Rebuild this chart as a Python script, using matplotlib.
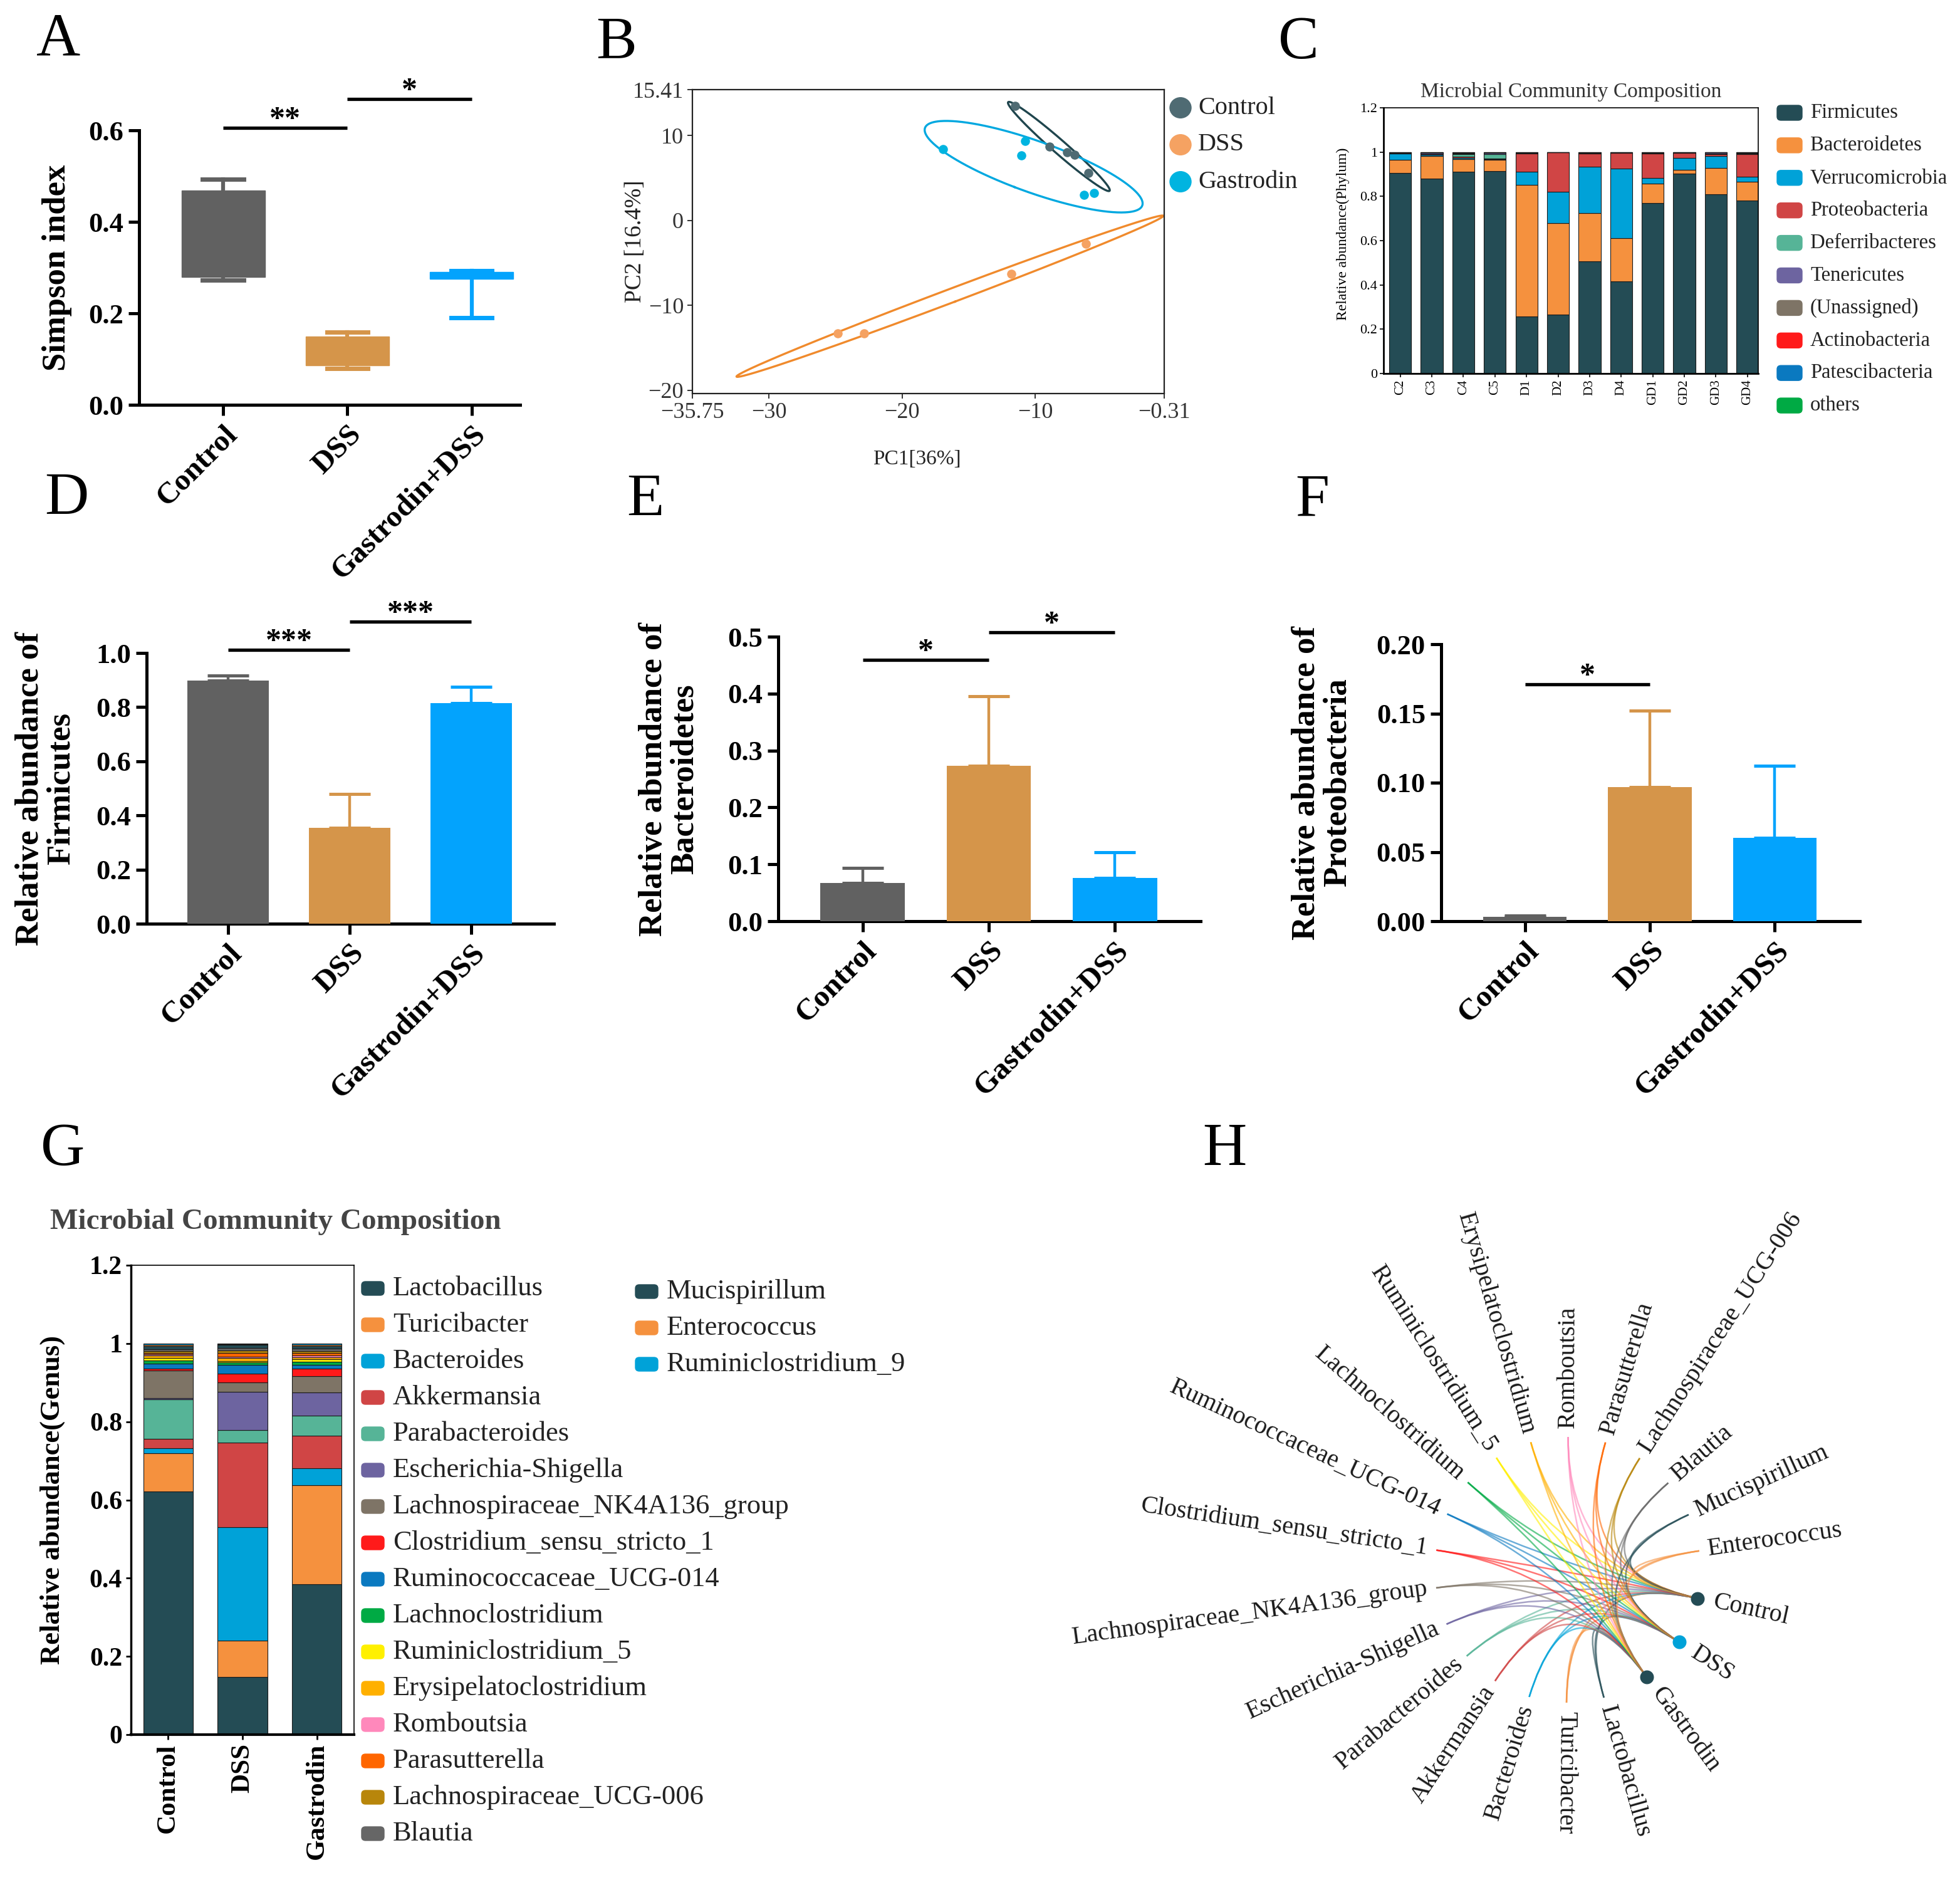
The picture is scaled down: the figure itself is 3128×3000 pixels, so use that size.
import numpy as np
import matplotlib
matplotlib.use("Agg")
import matplotlib.pyplot as plt
from matplotlib.patches import FancyBboxPatch, PathPatch
from matplotlib.path import Path

plt.rcParams['font.family'] = ['Liberation Serif', 'DejaVu Serif']

# ---------------- data ----------------
groups = ['Control', 'DSS', 'Gastrodin+DSS']
group_colors = ['#616161', '#D5954A', '#03A3FD']

# A: Simpson index (box summary)
simpson_q1 = [0.279, 0.086, 0.275]
simpson_med = [0.36, 0.12, 0.283]
simpson_q3 = [0.468, 0.149, 0.291]
simpson_lo = [0.272, 0.080, 0.191]
simpson_hi = [0.493, 0.159, 0.293]

# B: PCA scores
ctrl_pc1 = [-11.53, -8.91, -7.61, -7.05, -6.01]
ctrl_pc2 = [13.50, 8.71, 8.06, 7.71, 5.60]
dss_pc1 = [-24.81, -22.84, -11.81, -6.17]
dss_pc2 = [-13.31, -13.31, -6.25, -2.77]
gas_pc1 = [-16.92, -10.74, -11.05, -6.32, -5.56]
gas_pc2 = [8.37, 9.38, 7.68, 3.02, 3.23]

# C: phylum composition per sample
samples = ['C2', 'C3', 'C4', 'C5', 'D1', 'D2', 'D3', 'D4', 'GD1', 'GD2', 'GD3', 'GD4']
phyla = ['Firmicutes', 'Bacteroidetes', 'Verrucomicrobia', 'Proteobacteria',
         'Deferribacteres', 'Tenericutes', '(Unassigned)', 'Actinobacteria',
         'Patescibacteria', 'others']
firmicutes = [0.905, 0.879, 0.912, 0.915, 0.258, 0.265, 0.507, 0.416, 0.770, 0.903, 0.809, 0.782]
bacteroidetes = [0.059, 0.104, 0.056, 0.049, 0.595, 0.413, 0.217, 0.194, 0.088, 0.016, 0.120, 0.083]
verrucomicrobia = [0.028, 0.006, 0.007, 0.005, 0.058, 0.142, 0.209, 0.316, 0.026, 0.055, 0.052, 0.023]
proteobacteria = [0.001, 0.001, 0.003, 0.002, 0.083, 0.178, 0.059, 0.070, 0.108, 0.022, 0.010, 0.103]
deferribacteres = [0.001, 0.001, 0.012, 0.020, 0.001, 0.000, 0.001, 0.000, 0.002, 0.000, 0.001, 0.001]
tenericutes = [0.003, 0.006, 0.004, 0.004, 0.002, 0.001, 0.003, 0.002, 0.002, 0.002, 0.006, 0.005]
unassigned = [0.002, 0.002, 0.003, 0.003, 0.002, 0.001, 0.003, 0.001, 0.002, 0.002, 0.002, 0.002]
actinobacteria = [0.000, 0.000, 0.001, 0.001, 0.000, 0.000, 0.000, 0.000, 0.000, 0.000, 0.000, 0.000]
patescibacteria = [0.000, 0.000, 0.000, 0.000, 0.000, 0.000, 0.000, 0.000, 0.000, 0.000, 0.000, 0.000]
others_phy = [0.001, 0.001, 0.002, 0.001, 0.001, 0.000, 0.001, 0.001, 0.002, 0.000, 0.000, 0.001]
phylum_colors = ['#244C55', '#F5913E', '#00A2D8', '#D04545', '#56B497',
                 '#6D64A0', '#7E7466', '#FF1A1A', '#0A79C0', '#00AA44']

# D/E/F: mean and SD
firm_mean = [0.897, 0.355, 0.814]
firm_sd = [0.020, 0.125, 0.060]
bact_mean = [0.067, 0.273, 0.076]
bact_sd = [0.027, 0.122, 0.045]
prot_mean = [0.003, 0.097, 0.060]
prot_sd = [0.001, 0.055, 0.052]

# G: genus composition per group
genera = ['Lactobacillus', 'Turicibacter', 'Bacteroides', 'Akkermansia', 'Parabacteroides',
          'Escherichia-Shigella', 'Lachnospiraceae_NK4A136_group', 'Clostridium_sensu_stricto_1',
          'Ruminococcaceae_UCG-014', 'Lachnoclostridium', 'Ruminiclostridium_5',
          'Erysipelatoclostridium', 'Romboutsia', 'Parasutterella', 'Lachnospiraceae_UCG-006',
          'Blautia', 'Mucispirillum', 'Enterococcus', 'Ruminiclostridium_9']
genus_colors = ['#244C55', '#F5913E', '#00A2D8', '#D04545', '#56B497', '#6D64A0', '#7E7466',
                '#FF1A1A', '#0A79C0', '#00AA44', '#FFF000', '#FFB000', '#FF88BB', '#FF6600',
                '#B8860B', '#666666', '#244C55', '#F5913E', '#00A2D8']
genus_control = [0.621, 0.099, 0.012, 0.024, 0.101, 0.004, 0.070, 0.005, 0.012, 0.008,
                 0.007, 0.006, 0.003, 0.003, 0.005, 0.006, 0.008, 0.002, 0.004]
genus_dss = [0.148, 0.093, 0.290, 0.216, 0.031, 0.099, 0.023, 0.023, 0.022, 0.006,
             0.004, 0.008, 0.003, 0.010, 0.006, 0.006, 0.008, 0.002, 0.002]
genus_gastrodin = [0.385, 0.253, 0.043, 0.083, 0.052, 0.059, 0.042, 0.019, 0.010, 0.007,
                   0.006, 0.006, 0.005, 0.005, 0.006, 0.006, 0.007, 0.003, 0.003]
genus_groups = ['Control', 'DSS', 'Gastrodin']

# H: network nodes
net_genera = genera[:18]
net_groups = ['Control', 'DSS', 'Gastrodin']
net_group_colors = ['#244C55', '#00A2D8', '#244C55']

# ---------------- figure ----------------
W, H = 3128, 3000
fig = plt.figure(figsize=(W / 100, H / 100), dpi=100)


def box(l, t, r, b):
    return fig.add_axes([l / W, 1 - b / H, (r - l) / W, (b - t) / H])


def panel_letter(x, y, s):
    fig.text(x / W, 1 - y / H, s, fontsize=70, ha='center', va='center')


def prism(ax):
    for s in ['top', 'right']:
        ax.spines[s].set_visible(False)
    for s in ['left', 'bottom']:
        ax.spines[s].set_linewidth(3.6)
    ax.tick_params(width=3.6, length=12, pad=6)


def ylab(ax, text, px, l, r, size=38):
    ax.set_ylabel(text, fontsize=size, fontweight='bold', va='center', linespacing=1.05)
    ax.yaxis.set_label_coords((px - l) / (r - l), 0.5)


def sig(ax, x0, x1, y, txt):
    ax.plot([x0, x1], [y, y], color='black', lw=3.8, solid_capstyle='butt', clip_on=False)
    ax.annotate(txt, ((x0 + x1) / 2, y), xytext=(0, 0), textcoords='offset points',
                ha='center', va='baseline', fontsize=36, fontweight='bold',
                annotation_clip=False)


def cat_labels(ax):
    ax.set_xticks(range(3))
    ax.set_xticklabels(groups, rotation=45, ha='right', rotation_mode='anchor',
                       fontsize=35, fontweight='bold')


# ---- A ----
l, t, r, b = 222, 208, 830, 646
axA = box(l, t, r, b)
stats = [dict(med=m, q1=q1, q3=q3, whislo=lo, whishi=hi, fliers=[])
         for m, q1, q3, lo, hi in zip(simpson_med, simpson_q1, simpson_q3, simpson_lo, simpson_hi)]
bp = axA.bxp(stats, positions=[0, 1, 2], widths=0.67, capwidths=0.33,
             patch_artist=True, showfliers=False)
for i, c in enumerate(group_colors):
    bp['boxes'][i].set(facecolor=c, edgecolor=c, linewidth=1)
    bp['medians'][i].set(color=c, linewidth=1)
    for k in (2 * i, 2 * i + 1):
        bp['whiskers'][k].set(color=c, linewidth=4.5)
        bp['caps'][k].set(color=c, linewidth=5)
axA.set_xlim(-0.677, 2.39)
axA.set_ylim(0, 0.6)
prism(axA)
axA.set_yticks([0, 0.2, 0.4, 0.6])
axA.set_yticklabels(['0.0', '0.2', '0.4', '0.6'], fontsize=32, fontweight='bold')
cat_labels(axA)
ylab(axA, 'Simpson index', 91, l, r)
sig(axA, 0, 1, 0.605, '**')
sig(axA, 1, 2, 0.668, '*')

# ---- B ----
l, t, r, b = 1105, 143, 1858, 628
axB = box(l, t, r, b)
pca_sets = [(ctrl_pc1, ctrl_pc2, '#4F6B73', '#1F454D'),
            (dss_pc1, dss_pc2, '#F5A262', '#F08A2C'),
            (gas_pc1, gas_pc2, '#00B4E0', '#00A8E0')]
tt = np.linspace(0, 2 * np.pi, 300)
for px_, py_, pc, ec in pca_sets:
    pts = np.column_stack([px_, py_])
    mu = pts.mean(axis=0)
    cov = np.cov(pts.T)
    vals, vecs = np.linalg.eigh(cov)
    circ = np.vstack([np.cos(tt), np.sin(tt)])
    ell = mu[:, None] + 1.8 * vecs @ (np.sqrt(np.maximum(vals, 0))[:, None] * circ)
    axB.plot(ell[0], ell[1], color=ec, lw=2.4)
    axB.scatter(px_, py_, s=110, color=pc, zorder=3, linewidths=0)
axB.set_xlim(-35.75, -0.31)
axB.set_ylim(-20.37, 15.41)
for s in axB.spines.values():
    s.set_linewidth(1.6)
    s.set_color('#222222')
axB.set_xticks([-35.75, -30, -20, -10, -0.31])
axB.set_xticklabels(['\u221235.75', '\u221230', '\u221220', '\u221210', '\u22120.31'])
axB.set_yticks([-20, -10, 0, 10, 15.41])
axB.set_yticklabels(['\u221220', '\u221210', '0', '10', '15.41'])
axB.tick_params(labelsize=26, colors='#333333', length=6, width=1.4, pad=4)
axB.set_ylabel('PC2 [16.4%]', fontsize=27, color='#222222', va='center')
axB.yaxis.set_label_coords((1014 - l) / (r - l), 0.5)
axB.set_xlabel('PC1[36%]', fontsize=24, color='#222222', va='center')
axB.xaxis.set_label_coords((1463 - l) / (r - l), (b - 733) / (b - t))
for i, (name, c) in enumerate(zip(pca_labels_ := ['Control', 'DSS', 'Gastrodin'],
                                  ['#4F6B73', '#F5A262', '#00B4E0'])):
    y = 172 + i * 59
    fig.patches.append(matplotlib.patches.Circle((1884 / W, 1 - y / H), 17 / W,
                                                 transform=fig.transFigure, color=c))
    fig.text(1912 / W, 1 - y / H, name, fontsize=29, color='#222222', va='center', ha='left')

# ---- C ----
l, t, r, b = 2208, 172, 2806, 596
axC = box(l, t, r, b)
xc = np.arange(len(samples))
bottom = np.zeros(len(samples))
phylum_values = [firmicutes, bacteroidetes, verrucomicrobia, proteobacteria, deferribacteres,
                 tenericutes, unassigned, actinobacteria, patescibacteria, others_phy]
for vals, c in zip(phylum_values, phylum_colors):
    axC.bar(xc, vals, 0.7, bottom=bottom, color=c, edgecolor='#1a1a1a', linewidth=0.8)
    bottom += np.array(vals)
axC.set_xlim(-0.53, 11.34)
axC.set_ylim(0, 1.2)
axC.set_yticks([0, 0.2, 0.4, 0.6, 0.8, 1, 1.2])
axC.set_yticklabels(['0', '0.2', '0.4', '0.6', '0.8', '1', '1.2'], fontsize=16)
axC.set_xticks(xc)
axC.set_xticklabels(samples, rotation=90, fontsize=15)
axC.tick_params(length=4, width=1.2, pad=3)
for s in axC.spines.values():
    s.set_linewidth(1.2)
axC.spines['left'].set_linewidth(2)
axC.spines['bottom'].set_linewidth(2)
axC.set_ylabel('Relative abundance(Phylum)', fontsize=17, va='center')
axC.yaxis.set_label_coords((2143 - l) / (r - l), (b - 373) / (b - t))
axC.set_title('Microbial Community Composition', fontsize=24, color='#333333', pad=12)
for i, (name, c) in enumerate(zip(phyla, phylum_colors)):
    y = 180 + i * 51.9
    fig.patches.append(FancyBboxPatch(((2836) / W, 1 - (y + 12) / H), 40 / W, 24 / H,
                                      boxstyle='round,pad=0,rounding_size=0.002',
                                      transform=fig.transFigure, color=c))
    fig.text(2889 / W, 1 - y / H, name, fontsize=23.5, va='center', ha='left', color='#222222')

# ---- D, E, F ----
bar_sets = [
    ((234, 1042, 884, 1474), firm_mean, firm_sd, 1.0, [0, 0.2, 0.4, 0.6, 0.8, 1.0], '%.1f',
     'Relative abundance of\nFirmicutes', 73, [(0, 1, 1.011, '***'), (1, 2, 1.115, '***')]),
    ((1242, 1016, 1916, 1470), bact_mean, bact_sd, 0.5, [0, 0.1, 0.2, 0.3, 0.4, 0.5], '%.1f',
     'Relative abundance of\nBacteroidetes', 1068, [(0, 1, 0.459, '*'), (1, 2, 0.508, '*')]),
    ((2300, 1028, 2968, 1470), prot_mean, prot_sd, 0.20, [0, 0.05, 0.10, 0.15, 0.20], '%.2f',
     'Relative abundance of\nProteobacteria', 2110, [(0, 1, 0.171, '*')]),
]
for (l, t, r, b), mean, sd, top, ticks, fmt, label, lx, sigs in bar_sets:
    ax = box(l, t, r, b)
    x = np.arange(3)
    ax.bar(x, mean, 0.67, color=group_colors, zorder=3)
    for xi, m, s, c in zip(x, mean, sd, group_colors):
        ax.errorbar(xi, m, yerr=[[0], [s]], fmt='none', ecolor=c, elinewidth=3.2,
                    capsize=24, capthick=3.6, zorder=2)
    spacing = (r - l)
    ax.set_xlim(-0.67, 2.68)
    ax.set_ylim(0, top)
    prism(ax)
    ax.set_yticks(ticks)
    ax.set_yticklabels([fmt % v for v in ticks], fontsize=32, fontweight='bold')
    cat_labels(ax)
    ylab(ax, label, lx, l, r)
    for x0, x1, y, txt in sigs:
        sig(ax, x0, x1, y, txt)

# ---- G ----
l, t, r, b = 209, 2019, 565, 2768
axG = box(l, t, r, b)
xg = np.arange(3)
bottom = np.zeros(3)
for c, v0, v1, v2 in zip(genus_colors, genus_control, genus_dss, genus_gastrodin):
    vals = np.array([v0, v1, v2])
    axG.bar(xg, vals, 0.67, bottom=bottom, color=c, edgecolor='#1a1a1a', linewidth=0.8)
    bottom += vals
axG.set_xlim(-0.5, 2.5)
axG.set_ylim(0, 1.2)
axG.set_yticks([0, 0.2, 0.4, 0.6, 0.8, 1, 1.2])
axG.set_yticklabels(['0', '0.2', '0.4', '0.6', '0.8', '1', '1.2'], fontsize=30, fontweight='bold')
axG.set_xticks(xg)
axG.set_xticklabels(genus_groups, rotation=90, fontsize=31, fontweight='bold')
axG.tick_params(length=6, width=2, pad=4)
for s in axG.spines.values():
    s.set_linewidth(1.2)
axG.spines['left'].set_linewidth(2.5)
axG.spines['bottom'].set_linewidth(3)
axG.set_ylabel('Relative abundance(Genus)', fontsize=32, fontweight='bold', va='center')
axG.yaxis.set_label_coords((84 - l) / (r - l), (b - 2393) / (b - t))
fig.text(440 / W, 1 - 1950 / H, 'Microbial Community Composition', fontsize=34,
         fontweight='bold', color='#444444', ha='center', va='center')
for i, (name, c) in enumerate(zip(genera, genus_colors)):
    col, row = (0, i) if i < 16 else (1, i - 16)
    sx = 577 if col == 0 else 1014
    y = 2056 + row * 58 + (5 if col else 0)
    fig.patches.append(FancyBboxPatch((sx / W, 1 - (y + 11) / H), 36 / W, 22 / H,
                                      boxstyle='round,pad=0,rounding_size=0.002',
                                      transform=fig.transFigure, color=c))
    fig.text((sx + 50) / W, 1 - y / H, name, fontsize=32, va='center', ha='left', color='#222222')

# ---- H ----
axH = box(1700, 1850, 3128, 3000)
axH.set_xlim(1700, 3128)
axH.set_ylim(3000, 1850)
axH.axis('off')
cx, cy, R = 2502, 2505, 212
gen_ang = -74.2 - 16.33 * np.arange(len(net_genera))
grp_ang = np.linspace(8.2 - 360 * 0, -74.2, 5)[1:4]


def pos(a, rad=R):
    return cx + rad * np.cos(np.radians(a)), cy - rad * np.sin(np.radians(a))


def radial_text(a, text, rad, size=29):
    x, y = pos(a, rad)
    a = (a + 180) % 360 - 180
    if np.cos(np.radians(a)) > -0.02:
        rot, ha = a, 'left'
    else:
        rot, ha = a + 180, 'right'
    axH.text(x, y, text, rotation=rot, ha=ha, va='center', rotation_mode='anchor',
             fontsize=size, color='#1a1a1a')


for a, name, c in zip(gen_ang, net_genera, genus_colors):
    p0 = pos(a)
    for ga in grp_ang:
        p2 = pos(ga)
        path = Path([p0, (cx, cy), p2], [Path.MOVETO, Path.CURVE3, Path.CURVE3])
        axH.add_patch(PathPatch(path, facecolor='none', edgecolor=c, lw=1.8, alpha=0.6))
    radial_text(a, name, R + 14)

for ga, name, c in zip(grp_ang, net_groups, net_group_colors):
    x, y = pos(ga)
    axH.scatter([x], [y], s=220, color=c, zorder=5)
    radial_text(ga, name, R + 26)

for x, y, s in [(93, 64, 'A'), (984, 70, 'B'), (2072, 70, 'C'), (106, 798, 'D'),
                (1030, 800, 'E'), (2094, 800, 'F'), (100, 1836, 'G'), (1954, 1836, 'H')]:
    panel_letter(x, y, s)

fig.savefig('out.png', dpi=100, facecolor='white')
